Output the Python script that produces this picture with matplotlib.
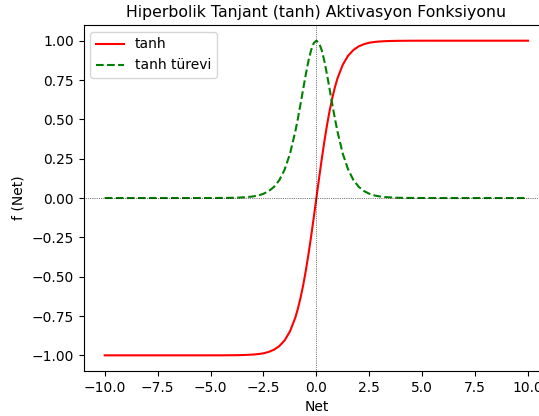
import matplotlib
matplotlib.use("Agg")
import matplotlib.pyplot as plt

net = [-10, -9, -8, -7, -6, -5, -4.5, -4, -3.75, -3.5, -3.25, -3, -2.75, -2.5, -2.25, -2,
       -1.75, -1.5, -1.25, -1, -0.875, -0.75, -0.625, -0.5, -0.375, -0.25, -0.125, 0,
       0.125, 0.25, 0.375, 0.5, 0.625, 0.75, 0.875, 1, 1.25, 1.5, 1.75, 2, 2.25, 2.5,
       2.75, 3, 3.25, 3.5, 3.75, 4, 4.5, 5, 6, 7, 8, 9, 10]

tanh_vals = [-1.0, -1.0, -1.0, -1.0, -1.0, -0.9999, -0.9998, -0.9993, -0.9989, -0.9982,
             -0.997, -0.995, -0.992, -0.987, -0.978, -0.964, -0.941, -0.905, -0.848,
             -0.762, -0.704, -0.635, -0.555, -0.462, -0.358, -0.245, -0.124, 0.0,
             0.124, 0.245, 0.358, 0.462, 0.555, 0.635, 0.704, 0.762, 0.848, 0.905,
             0.941, 0.964, 0.978, 0.987, 0.992, 0.995, 0.997, 0.9982, 0.9989, 0.9993,
             0.9998, 0.9999, 1.0, 1.0, 1.0, 1.0, 1.0]

turev_vals = [0.0, 0.0, 0.0, 0.0, 0.0, 0.0002, 0.0005, 0.0013, 0.0022, 0.004, 0.006,
              0.010, 0.016, 0.027, 0.044, 0.071, 0.114, 0.181, 0.280, 0.420, 0.504,
              0.597, 0.692, 0.786, 0.872, 0.940, 0.985, 1.0, 0.985, 0.940, 0.872,
              0.786, 0.692, 0.597, 0.504, 0.420, 0.280, 0.181, 0.114, 0.071, 0.044,
              0.027, 0.016, 0.010, 0.006, 0.004, 0.0022, 0.0013, 0.0005, 0.0002, 0.0,
              0.0, 0.0, 0.0, 0.0]

fig = plt.figure(figsize=(5.39, 4.16), dpi=100)
ax = fig.add_axes([0.155, 0.108, 0.864, 0.832])

ax.plot(net, tanh_vals, color="red", label="tanh")
ax.plot(net, turev_vals, color="green", linestyle="--", label="tanh türevi")
ax.axhline(0, color="black", linestyle=":", linewidth=0.5)
ax.axvline(0, color="black", linestyle=":", linewidth=0.5)

ax.set_title("Hiperbolik Tanjant (tanh) Aktivasyon Fonksiyonu", fontsize=11.3)
ax.set_xlabel("Net")
ax.set_ylabel("f (Net)")
ax.legend(loc="upper left")

fig.savefig("out.png", dpi=100)
